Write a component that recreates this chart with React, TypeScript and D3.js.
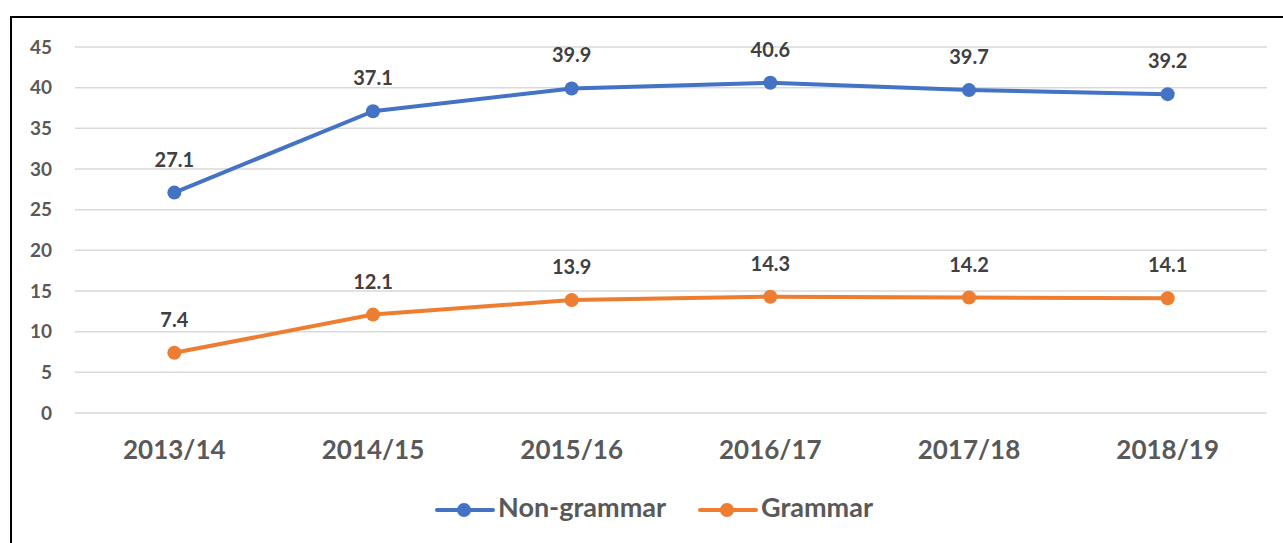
import React, { useEffect, useRef } from 'react';
import * as d3 from 'd3';

const years = ['2013/14', '2014/15', '2015/16', '2016/17', '2017/18', '2018/19'];
const nonGrammar = [27.1, 37.1, 39.9, 40.6, 39.7, 39.2];
const grammar = [7.4, 12.1, 13.9, 14.3, 14.2, 14.1];
const yTicks = [0, 5, 10, 15, 20, 25, 30, 35, 40, 45];
const seriesNames = ['Non-grammar', 'Grammar'];
const seriesColors = ['#4472C4', '#ED7D31'];

const W = 1283;
const H = 543;
const FONT = 'Lato, "Open Sans", sans-serif';

const App = () => {
  const ref = useRef<SVGSVGElement>(null);

  useEffect(() => {
    const svg = d3.select(ref.current);
    svg.selectAll('*').remove();

    const left = 75, right = 1267, top = 47, bottom = 413;

    const x = d3.scaleBand().domain(years).range([left, right]);
    const y = d3.scaleLinear().domain([0, 45]).range([bottom, top]);
    const cx = (d: string) => (x(d) as number) + x.bandwidth() / 2;

    // frame
    svg.append('path')
      .attr('d', `M11,${H + 5} V17 H${W + 5}`)
      .attr('fill', 'none')
      .attr('stroke', '#000')
      .attr('stroke-width', 2);

    // gridlines
    svg.append('g')
      .selectAll('line')
      .data(yTicks)
      .join('line')
      .attr('x1', left)
      .attr('x2', right)
      .attr('y1', (d) => y(d))
      .attr('y2', (d) => y(d))
      .attr('stroke', '#D9D9D9')
      .attr('stroke-width', 1.5);

    // y tick labels
    svg.append('g')
      .selectAll('text')
      .data(yTicks)
      .join('text')
      .attr('x', 52)
      .attr('y', (d) => y(d))
      .attr('dy', '0.35em')
      .attr('text-anchor', 'end')
      .attr('font-family', FONT)
      .attr('font-weight', 'bold')
      .attr('font-size', 19)
      .attr('fill', '#595959')
      .text((d) => d);

    // x labels
    svg.append('g')
      .selectAll('text')
      .data(years)
      .join('text')
      .attr('x', cx)
      .attr('y', 450)
      .attr('dy', '0.35em')
      .attr('text-anchor', 'middle')
      .attr('font-family', FONT)
      .attr('font-weight', 'bold')
      .attr('font-size', 26)
      .attr('fill', '#595959')
      .text((d) => d);

    const line = d3.line<number>()
      .x((_, i) => cx(years[i]))
      .y((d) => y(d));

    [nonGrammar, grammar].forEach((vals, si) => {
      const g = svg.append('g');
      g.append('path')
        .datum(vals)
        .attr('d', line)
        .attr('fill', 'none')
        .attr('stroke', seriesColors[si])
        .attr('stroke-width', 4)
        .attr('stroke-linejoin', 'round')
        .attr('stroke-linecap', 'round');
      g.selectAll('circle')
        .data(vals)
        .join('circle')
        .attr('cx', (_, i) => cx(years[i]))
        .attr('cy', (d) => y(d))
        .attr('r', 7)
        .attr('fill', seriesColors[si]);
      g.selectAll('text')
        .data(vals)
        .join('text')
        .attr('x', (_, i) => cx(years[i]))
        .attr('y', (d) => y(d) - 33)
        .attr('dy', '0.35em')
        .attr('text-anchor', 'middle')
        .attr('font-family', FONT)
        .attr('font-weight', 'bold')
        .attr('font-size', 20)
        .attr('fill', '#404040')
        .text((d) => d.toFixed(1));
    });

    // legend
    const legendX = [437, 700];
    seriesNames.forEach((name, i) => {
      const lg = svg.append('g').attr('transform', `translate(${legendX[i]},510)`);
      lg.append('line')
        .attr('x1', 0)
        .attr('x2', 56)
        .attr('stroke', seriesColors[i])
        .attr('stroke-width', 4)
        .attr('stroke-linecap', 'round');
      lg.append('circle').attr('cx', 27).attr('r', 7).attr('fill', seriesColors[i]);
      lg.append('text')
        .attr('x', 61)
        .attr('y', -2)
        .attr('dy', '0.35em')
        .attr('font-family', FONT)
        .attr('font-weight', 'bold')
        .attr('font-size', 27)
        .attr('fill', '#595959')
        .text(name);
    });
  }, []);

  return (
    <svg
      ref={ref}
      width={W}
      height={H}
      style={{ position: 'absolute', left: 0, top: 0, background: '#fff' }}
    />
  );
};

export default App;
